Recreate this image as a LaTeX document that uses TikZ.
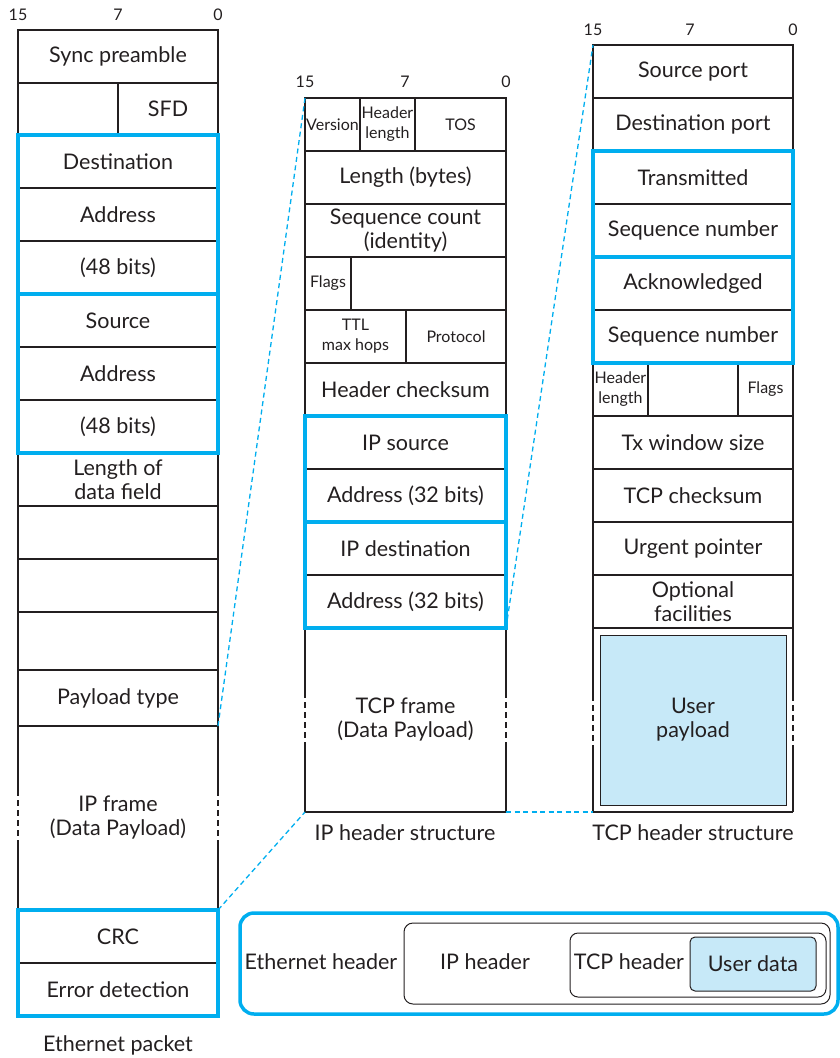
\documentclass[tikz,border=0pt]{standalone}
\usepackage{fontspec}
\setmainfont{Lato}
\usetikzlibrary{calc}
\definecolor{cy}{RGB}{0,174,239}
\definecolor{lb}{RGB}{199,233,248}
\definecolor{ink}{RGB}{35,31,32}
\tikzset{
  fld/.style={draw=ink, line width=1.2pt, inner sep=0pt, outer sep=0pt, align=center, font=\fontsize{21.5}{24}\selectfont, text=ink},
  sm/.style={font=\fontsize{16}{20}\selectfont},
  grp/.style={draw=cy, line width=3.5pt},
  cyd/.style={draw=cy, line width=1.3pt, dash pattern=on 5pt off 3.5pt},
  side/.style={draw=ink, line width=1.2pt},
  sided/.style={draw=ink, line width=1.2pt, dash pattern=on 6pt off 4pt},
  num/.style={font=\fontsize{16}{18}\selectfont, text=ink, inner sep=0pt},
  captxt/.style={font=\fontsize{21.5}{24}\selectfont, text=ink, inner sep=0pt},
  legbox/.style={anchor=north west, inner sep=0pt, outer sep=0pt},
}
\newcommand\Fld[7][]{\node[fld,#1,anchor=north west,minimum width=#5,minimum height=#6] (#2) at (#3,#4) {#7};}
\begin{document}
\begin{tikzpicture}[x=1pt,y=-1pt]
\useasboundingbox (0,0) rectangle (840,1058);
% ---------------- Ethernet packet
\node[num] (e15) at (18,15) {15};
\node[num] (e7) at (118,15) {7};
\node[num] (e0) at (218,15) {0};
\Fld{sync}{18}{30}{200}{53}{Sync preamble}
\Fld{sfdl}{18}{83}{100}{52}{}
\Fld{sfd}{118}{83}{100}{52}{SFD}
\Fld{dst}{18}{135}{200}{53}{Destination}
\Fld{da}{18}{188}{200}{53}{Address}
\Fld{db}{18}{241}{200}{53}{(48 bits)}
\Fld{src}{18}{294}{200}{53}{Source}
\Fld{sa}{18}{347}{200}{53}{Address}
\Fld{sb}{18}{400}{200}{53}{(48 bits)}
\Fld{len}{18}{453}{200}{53}{Length of\\data field}
\Fld{ea}{18}{506}{200}{53}{}
\Fld{eb}{18}{559}{200}{53}{}
\Fld{ec}{18}{612}{200}{58}{}
\Fld{ptype}{18}{670}{200}{56}{Payload type}
\Fld[draw=none]{ipf}{18}{726}{200}{184}{IP frame\\(Data Payload)}
\Fld{crc}{18}{910}{200}{53}{CRC}
\Fld{err}{18}{963}{200}{53}{Error detection}
\foreach \s in {west,east}{
  \draw[side] (ipf.north \s) -- ($(ipf.north \s)+(0,64)$);
  \draw[sided] ($(ipf.north \s)+(0,64)$) -- ($(ipf.north \s)+(0,114)$);
  \draw[side] ($(ipf.north \s)+(0,114)$) -- (ipf.south \s);
}
\draw[grp] (dst.north west) rectangle (db.south east);
\draw[grp] (src.north west) rectangle (sb.south east);
\draw[grp] (crc.north west) rectangle (err.south east);
\node[captxt] (ecap) at (118,1045) {Ethernet packet};
% ---------------- IP header
\node[num] (i15) at (305,82) {15};
\node[num] (i7) at (405,82) {7};
\node[num] (i0) at (506,82) {0};
\Fld[sm]{ver}{305}{98}{55}{53}{Version}
\Fld[sm]{hl}{360}{98}{55}{53}{Header\\length}
\Fld[sm]{tos}{415}{98}{91}{53}{TOS}
\Fld{iplen}{305}{151}{201}{53}{Length (bytes)}
\Fld{seq}{305}{204}{201}{53}{Sequence count\\(identity)}
\Fld[sm]{flg}{305}{257}{46}{53}{Flags}
\Fld{flg2}{351}{257}{155}{53}{}
\Fld[sm]{ttl}{305}{310}{101}{53}{TTL\\max hops}
\Fld[sm]{prot}{406}{310}{100}{53}{Protocol}
\Fld{hcs}{305}{363}{201}{53}{Header checksum}
\Fld{ips}{305}{416}{201}{53}{IP source}
\Fld{ipsa}{305}{469}{201}{53}{Address (32 bits)}
\Fld{ipd}{305}{522}{201}{53}{IP destination}
\Fld{ipda}{305}{575}{201}{53}{Address (32 bits)}
\Fld[draw=none]{tcpf}{305}{628}{201}{184}{TCP frame\\(Data Payload)}
\draw[side] (tcpf.south west) -- (tcpf.south east);
\foreach \s in {west,east}{
  \draw[side] (tcpf.north \s) -- ($(tcpf.north \s)+(0,64)$);
  \draw[sided] ($(tcpf.north \s)+(0,64)$) -- ($(tcpf.north \s)+(0,114)$);
  \draw[side] ($(tcpf.north \s)+(0,114)$) -- (tcpf.south \s);
}
\draw[grp] (ips.north west) rectangle (ipsa.south east);
\draw[grp] (ipd.north west) rectangle (ipda.south east);
\node[captxt] (icap) at (405,833) {IP header structure};
% ---------------- TCP header
\node[num] (t15) at (593,30) {15};
\node[num] (t7) at (690,30) {7};
\node[num] (t0) at (793,30) {0};
\Fld{sp}{593}{45}{200}{53}{Source port}
\Fld{dp}{593}{98}{200}{53}{Destination port}
\Fld{tx}{593}{151}{200}{53}{Transmitted}
\Fld{txs}{593}{204}{200}{53}{Sequence number}
\Fld{ack}{593}{257}{200}{53}{Acknowledged}
\Fld{acks}{593}{310}{200}{53}{Sequence number}
\Fld[sm]{thl}{593}{363}{55}{53}{Header\\length}
\Fld{tmid}{648}{363}{90}{53}{}
\Fld[sm]{tflg}{738}{363}{55}{53}{Flags}
\Fld{win}{593}{416}{200}{53}{Tx window size}
\Fld{tcs}{593}{469}{200}{53}{TCP checksum}
\Fld{urg}{593}{522}{200}{53}{Urgent pointer}
\Fld{opt}{593}{575}{200}{53}{Optional\\facilities}
\Fld[draw=none]{tpay}{593}{628}{200}{184}{}
\draw[side] (tpay.south west) -- (tpay.south east);
\foreach \s in {west,east}{
  \draw[side] (tpay.north \s) -- ($(tpay.north \s)+(0,67)$);
  \draw[sided] ($(tpay.north \s)+(0,67)$) -- ($(tpay.north \s)+(0,117)$);
  \draw[side] ($(tpay.north \s)+(0,117)$) -- (tpay.south \s);
}
\Fld[fill=lb, line width=0.9pt]{upay}{600}{635}{186}{170}{User\\payload}
\draw[grp] (tx.north west) rectangle (txs.south east);
\draw[grp] (ack.north west) rectangle (acks.south east);
\node[captxt] (tcap) at (693,833) {TCP header structure};
% ---------------- connectors
\draw[cyd] (ptype.south east) -- (ver.north west);
\draw[cyd] (ipf.south east) -- (tcpf.south west);
\draw[cyd] (ipda.south east) -- (sp.north west);
\draw[cyd] (tcpf.south east) -- (tpay.south west);
% ---------------- legend
\node[legbox, draw=cy, line width=3.5pt, rounded corners=14pt, minimum width=598, minimum height=101] (leg) at (240,913) {};
\node[legbox, draw=ink, line width=1pt, rounded corners=9pt, minimum width=426, minimum height=81] (lip) at (404,923) {};
\node[legbox, draw=ink, line width=1pt, rounded corners=8pt, minimum width=256, minimum height=64] (ltcp) at (570,933) {};
\node[legbox, draw=ink, fill=lb, line width=1pt, rounded corners=5pt, minimum width=126, minimum height=54, font=\fontsize{21.5}{24}\selectfont, text=ink] (lud) at (690,937) {User data};
\node[captxt] (leth) at (321,962) {Ethernet header};
\node[captxt] (liph) at (485,962) {IP header};
\node[captxt] (ltch) at (629,962) {TCP header};
\end{tikzpicture}
\end{document}
